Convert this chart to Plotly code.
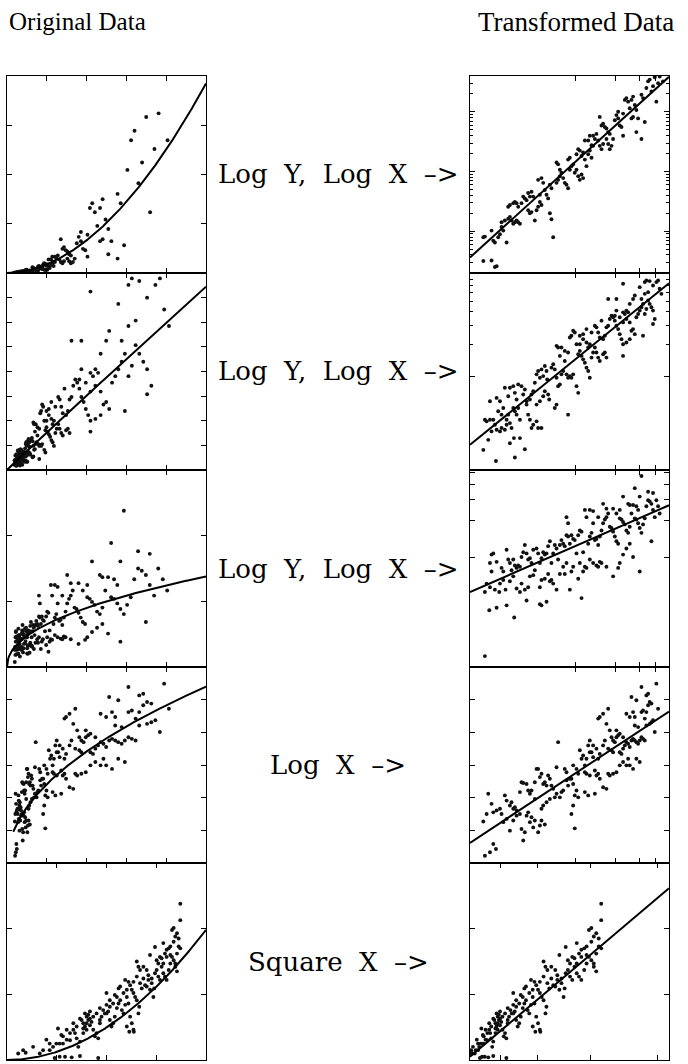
import numpy as np
import plotly.graph_objects as go

W, H = 688, 1064

# ---------------------------------------------------------------------------
# Row 1: power relation, analysed as log10(y) against log10(x)
r1_lx = [-0.695,-0.633,-0.608,-0.595,-0.695,-0.683,-0.633,-0.62,-0.608,-0.583,
         -0.57,-0.558,-0.545,-0.52,-0.558,-0.533,-0.508,-0.495,-0.483,-0.47,
         -0.458,-0.445,-0.433,-0.42,-0.508,-0.495,-0.47,-0.458,-0.445,-0.433,
         -0.408,-0.395,-0.383,-0.37,-0.358,-0.345,-0.333,-0.32,-0.358,-0.345,
         -0.333,-0.308,-0.295,-0.283,-0.27,-0.258,-0.27,-0.283,-0.258,-0.245,
         -0.233,-0.22,-0.208,-0.195,-0.183,-0.17,-0.195,-0.183,-0.145,-0.133,
         -0.12,-0.108,-0.145,-0.133,-0.12,-0.095,-0.083,-0.07,-0.058,-0.045,
         -0.033,-0.02,-0.058,-0.045,-0.008,0.005,0.018,0.03,0.043,0.055,
         0.005,0.018,0.03,0.043,0.055,0.068,0.08,0.093,0.105,0.118,
         0.118,0.13,0.068,0.093,0.105,0.13,0.143,0.155,0.168,0.18,
         0.193,0.205,0.18,0.193,0.205,0.218,0.23,0.243,0.255,0.23,
         0.243,0.255,0.268,0.28,0.293,0.305,0.318,0.33,0.343,0.355,
         0.318,0.355,0.368,0.38,0.393,0.405,0.418,0.43,0.443,0.455,
         0.418,0.43,0.455,0.468,0.493,0.518,0.493,0.505,0.53,0.543,
         0.555,0.568,0.58,0.593,0.605,0.618,0.63,0.655]
r1_ly = [-2.50,-2.49,-2.60,-2.585,-2.10,-2.09,-1.99,-2.16,-2.19,-2.10,
         -2.05,-1.93,-1.99,-2.19,-1.85,-1.82,-1.79,-1.76,-1.82,-1.875,
         -1.85,-1.82,-1.85,-1.875,-1.59,-1.56,-1.53,-1.51,-1.53,-1.59,
         -1.53,-1.42,-1.45,-1.48,-1.36,-1.42,-1.34,-1.42,-1.65,-1.70,
         -1.68,-1.82,-1.65,-1.59,-1.51,-1.56,-1.39,-1.14,-1.11,-1.19,
         -1.31,-1.39,-1.45,-1.70,-1.80,-2.10,-1.22,-1.28,-1.19,-1.14,
         -1.08,-1.02,-0.85,-0.88,-0.97,-1.11,-1.19,-1.22,-1.28,-0.97,
         -0.91,-0.88,-0.80,-0.77,-1.02,-0.97,-1.08,-1.14,-1.05,-1.11,
         -0.71,-0.625,-0.65,-0.74,-0.68,-0.80,-0.91,-0.71,-0.65,-0.77,
         -0.56,-0.57,-0.48,-0.48,-0.40,-0.40,-0.455,-0.37,-0.48,-0.57,
         -0.625,-0.54,-0.085,-0.23,-0.20,-0.255,-0.28,-0.34,-0.37,-0.455,
         -0.54,-0.625,-0.57,-0.455,-0.14,-0.055,-0.11,-0.23,-0.255,-0.40,
         0.0,-0.03,0.20,0.23,0.17,0.06,0.20,0.255,0.115,0.03,
         -0.11,-0.085,-0.34,-0.11,-0.455,-0.17,0.285,0.23,0.40,0.51,
         0.54,0.34,0.43,0.58,0.17,0.48,0.59,0.51]

# Row 2: near-proportional relation with spread growing with x (log10 values)
r2_lx = [-0.695,-0.658,-0.60,-0.458,-0.383,-0.495,-0.465,-0.42,-0.57,-0.558,
         -0.533,-0.52,-0.608,-0.62,-0.67,-0.683,-0.645,-0.633,-0.595,-0.583,
         -0.558,-0.545,-0.52,-0.508,-0.495,-0.483,-0.47,-0.458,-0.445,-0.433,
         -0.42,-0.645,-0.595,-0.57,-0.533,-0.508,-0.495,-0.47,-0.458,-0.445,
         -0.433,-0.408,-0.395,-0.383,-0.37,-0.358,-0.345,-0.333,-0.32,-0.295,
         -0.283,-0.258,-0.37,-0.345,-0.333,-0.32,-0.308,-0.295,-0.283,-0.27,
         -0.258,-0.245,-0.233,-0.22,-0.215,-0.208,-0.20,-0.233,-0.245,-0.27,
         -0.295,-0.183,-0.17,-0.158,-0.145,-0.133,-0.145,-0.158,-0.12,-0.108,
         -0.095,-0.083,-0.12,-0.133,-0.145,-0.108,-0.083,-0.07,-0.058,-0.045,
         -0.033,-0.02,0.005,0.018,-0.058,-0.058,-0.045,-0.033,-0.008,0.005,
         0.018,0.03,0.043,0.055,0.068,0.08,0.093,0.105,0.118,0.13,
         0.143,0.155,0.168,0.18,0.205,0.218,0.23,-0.02,0.03,0.055,
         0.08,0.093,0.105,0.118,0.143,0.155,0.168,0.18,0.205,0.218,
         0.23,0.243,0.255,0.268,0.28,0.293,0.305,0.318,0.33,0.343,
         0.355,0.355,0.38,0.405,0.418,0.43,0.443,0.455,0.468,0.48,
         0.493,0.505,0.518,0.53,0.543,0.555,0.568,0.58,0.593,0.58,
         0.505,0.243,0.305,0.355,0.38,0.393,0.405,0.43,0.443,0.48,
         0.518,0.53,0.555,0.58,0.605,0.618,0.63,0.643,0.543,0.518,
         0.493,0.355,0.368,0.38,0.08,0.055,0.03,0.193,0.293,0.305,
         0.33,0.355,0.405]
r2_ly = [-0.677,-0.584,-0.78,-0.748,-0.671,-0.615,-0.568,-0.568,-0.506,-0.475,
         -0.491,-0.444,-0.444,-0.398,-0.413,-0.398,-0.398,-0.506,-0.491,-0.32,
         -0.351,-0.289,-0.398,-0.351,-0.429,-0.475,-0.289,-0.32,-0.351,-0.289,
         -0.398,-0.227,-0.196,-0.227,-0.102,-0.18,-0.102,-0.087,-0.149,-0.211,
         -0.071,-0.087,-0.165,-0.118,-0.227,-0.351,-0.398,-0.475,-0.444,-0.413,
         -0.475,-0.475,-0.258,-0.211,-0.165,-0.134,-0.056,0.022,0.053,-0.009,
         0.068,0.006,0.099,0.053,-0.025,-0.165,-0.211,-0.134,-0.18,-0.227,
         -0.258,0.084,0.115,0.068,-0.009,-0.087,-0.258,-0.289,-0.071,0.022,
         0.053,0.146,0.193,0.27,0.286,0.27,0.239,0.022,-0.009,0.006,
         -0.009,0.022,-0.087,-0.149,-0.351,0.224,0.363,0.379,0.41,0.301,
         0.208,0.239,0.193,0.161,0.13,0.084,0.053,-0.009,0.177,0.224,
         0.27,0.224,0.177,0.146,0.208,0.224,0.177,0.425,0.379,0.348,
         0.317,0.27,0.301,0.41,0.472,0.457,0.41,0.363,0.348,0.379,
         0.457,0.472,0.534,0.565,0.55,0.519,0.472,0.441,0.394,0.348,
         0.301,0.193,0.317,0.348,0.425,0.441,0.394,0.55,0.581,0.612,
         0.643,0.674,0.581,0.627,0.705,0.674,0.643,0.612,0.534,0.488,
         0.379,0.72,0.72,0.86,0.612,0.596,0.674,0.72,0.752,0.829,
         0.876,0.891,0.885,0.845,0.876,0.891,0.814,0.767,0.783,0.767,
         0.72,0.503,0.581,0.534,0.441,0.394,0.301,0.519,0.565,0.612,
         0.55,0.596,0.503]

# Row 3: saturating relation (log10 values)
r3_lx = [-0.683,-0.65,-0.595,-0.52,-0.463,-0.37,-0.27,-0.258,-0.22,0.043,
         -0.683,-0.645,-0.67,-0.608,-0.575,-0.57,-0.545,-0.528,-0.495,-0.47,
         -0.445,-0.42,-0.408,-0.383,-0.358,-0.345,-0.32,-0.308,-0.27,-0.258,
         -0.233,-0.208,-0.195,-0.183,-0.17,-0.145,-0.12,-0.095,-0.083,-0.07,
         -0.045,-0.033,-0.02,0.018,0.03,0.055,0.068,0.08,0.105,0.13,
         0.155,0.168,0.18,0.193,0.23,0.28,0.318,0.33,0.355,0.38,
         0.405,0.43,0.48,-0.633,-0.645,-0.633,-0.62,-0.595,-0.558,-0.545,
         -0.52,-0.508,-0.495,-0.483,-0.47,-0.458,-0.445,-0.433,-0.42,-0.408,
         -0.395,-0.383,-0.37,-0.358,-0.345,-0.333,-0.32,-0.295,-0.283,-0.27,
         -0.258,-0.245,-0.233,-0.22,-0.208,-0.195,-0.183,-0.17,-0.158,-0.145,
         -0.133,-0.12,-0.108,-0.095,-0.083,-0.07,-0.058,-0.045,-0.033,-0.02,
         -0.008,0.005,0.018,0.03,0.043,0.055,0.068,0.08,0.093,0.105,
         0.118,0.13,0.143,0.155,0.168,0.18,0.193,0.205,0.218,0.23,
         0.243,0.255,0.268,0.28,0.293,0.305,0.318,0.33,0.343,0.355,
         0.368,0.38,0.393,0.405,0.418,0.43,0.443,0.455,0.468,0.48,
         0.493,0.505,0.518,0.53,0.543,0.555,0.568,0.58,0.593,0.568,
         0.543,0.58,0.605,0.618,0.63,0.48,0.355,0.443,0.493,0.205,
         0.23,0.28,0.305,0.33,-0.07,-0.058,0.105,0.13,0.168,0.393,
         0.405,0.455,0.468]
r3_ly = [-0.82,-0.44,-0.42,-0.40,-0.50,-0.36,-0.39,-0.40,-0.37,-0.34,
         -0.29,-0.25,-0.22,-0.27,-0.29,-0.22,-0.19,-0.27,-0.20,-0.16,
         -0.26,-0.29,-0.22,-0.27,-0.25,-0.16,-0.15,-0.11,-0.25,-0.19,
         -0.18,-0.14,-0.20,-0.19,-0.22,-0.27,-0.14,-0.08,-0.14,-0.05,
         -0.27,-0.12,-0.08,-0.18,-0.05,-0.12,-0.08,-0.09,-0.02,-0.05,
         -0.07,-0.08,-0.04,-0.05,-0.08,-0.16,-0.09,-0.05,0.02,0.07,
         0.11,0.0,-0.12,-0.12,-0.05,0.02,0.03,-0.04,-0.09,-0.12,
         0.06,-0.02,-0.05,-0.11,-0.02,-0.07,-0.09,-0.07,-0.08,0.0,
         0.04,0.10,0.03,-0.02,-0.01,-0.05,0.06,0.07,0.03,-0.05,
         -0.01,0.04,0.02,0.03,0.09,0.13,-0.05,0.03,0.10,0.07,
         -0.02,0.10,0.14,0.11,0.09,0.18,0.17,0.11,0.18,0.15,
         0.14,0.03,0.18,0.22,0.21,0.04,0.39,0.33,0.11,0.17,
         0.20,0.28,0.14,0.15,0.10,0.17,0.22,0.28,0.31,0.33,
         0.36,0.25,0.24,0.21,0.17,0.13,0.11,0.32,0.31,0.29,
         0.27,0.22,0.20,0.25,0.36,0.43,0.32,0.31,0.28,0.24,
         0.20,0.27,0.32,0.42,0.47,0.46,0.44,0.39,0.33,0.13,
         0.54,0.53,0.47,0.42,0.36,0.50,0.50,0.57,0.67,0.44,
         0.40,0.40,0.36,0.39,0.33,0.28,0.39,0.38,0.33,0.44,
         0.43,0.42,0.39]

# Row 4: logarithmic relation; x stored as log10, y as measured
r4_lx = [-0.683,-0.645,-0.62,-0.60,-0.695,-0.67,-0.658,-0.633,-0.62,-0.595,
         -0.57,-0.558,-0.533,-0.52,-0.495,-0.483,-0.47,-0.458,-0.445,-0.545,
         -0.52,-0.495,-0.47,-0.445,-0.42,-0.408,-0.395,-0.383,-0.37,-0.358,
         -0.345,-0.333,-0.32,-0.308,-0.283,-0.27,-0.258,-0.233,-0.42,-0.408,
         -0.395,-0.37,-0.358,-0.345,-0.333,-0.308,-0.295,-0.283,-0.27,-0.258,
         -0.245,-0.233,-0.22,-0.208,-0.195,-0.183,-0.17,-0.145,-0.12,-0.108,
         -0.095,-0.07,-0.058,-0.045,-0.033,-0.02,-0.008,0.005,0.018,-0.02,
         -0.033,-0.008,-0.133,-0.083,-0.07,-0.02,0.005,0.018,0.03,0.043,
         0.055,0.068,0.08,0.093,0.105,0.118,0.13,0.143,0.155,0.168,
         0.18,0.205,0.23,0.243,0.255,0.28,0.305,0.33,0.355,0.38,
         0.393,0.405,0.43,0.455,0.48,0.068,0.093,0.143,0.155,0.168,
         0.18,0.205,0.23,0.243,0.255,0.268,0.28,0.293,0.305,0.318,
         0.33,0.343,0.355,0.368,0.38,0.393,0.405,0.418,0.43,0.443,
         0.455,0.468,0.48,0.493,0.505,0.518,0.218,0.205,0.18,0.168,
         0.13,0.105,0.305,0.33,0.355,0.38,0.405,0.43,0.443,0.418,
         0.455,0.493,0.505,0.53,0.543,0.555,0.568,0.53,0.543,0.493,
         0.518,0.53,0.555,0.568,0.58,0.593,0.605,0.618,0.443,0.468,
         0.243,0.268,0.28,0.068,0.08,0.105,-0.158,-0.145,-0.195,-0.22,
         -0.245,-0.258,-0.308]
r4_y = [0.22,0.33,0.58,0.43,1.27,1.50,2.12,1.81,1.55,1.61,
        1.66,1.50,2.07,1.91,1.76,1.86,1.66,1.71,1.61,1.25,
        1.35,0.99,1.30,1.45,1.50,1.04,0.69,0.94,1.45,1.55,
        1.25,1.40,1.09,1.30,0.94,1.15,1.30,1.18,2.17,2.47,
        2.45,2.42,2.22,2.12,2.22,2.47,2.88,2.88,2.63,2.73,
        2.42,2.47,2.37,2.68,2.58,2.37,2.27,2.93,2.01,2.17,
        2.22,2.53,2.37,2.58,2.58,2.42,2.07,2.22,2.01,1.76,
        1.50,1.06,3.70,2.88,2.78,2.99,2.88,2.73,3.45,3.19,
        3.29,2.99,3.19,3.60,3.75,3.39,3.24,2.83,2.68,2.73,
        2.58,2.32,2.27,2.73,2.68,2.73,2.78,2.99,3.09,2.99,
        3.19,2.99,2.88,3.19,3.09,2.17,2.07,2.12,3.50,4.42,
        4.47,4.57,4.26,4.72,4.06,3.85,3.75,3.70,3.85,3.91,
        3.39,3.34,3.50,3.60,3.70,3.65,3.55,3.75,3.80,3.75,
        3.70,3.65,3.75,3.85,3.80,3.75,3.75,3.60,3.34,3.19,
        3.60,3.39,4.06,3.96,3.85,4.57,4.47,4.62,4.47,5.08,
        4.98,4.62,4.67,4.62,4.83,4.93,4.88,5.13,5.18,5.39,
        4.42,4.21,4.26,4.31,4.37,4.01,5.49,4.72,4.21,4.16,
        3.50,3.45,3.39,2.78,2.73,2.68,2.01,2.12,1.96,1.86,
        1.76,1.66,1.96]

# Row 5: quadratic relation, raw values
r5_x = [0.27,0.39,0.45,0.63,0.95,1.03,1.15,1.27,1.40,1.56,
        1.76,2.20,1.23,1.31,1.35,1.44,1.52,1.60,1.64,1.68,
        1.72,1.76,1.80,1.84,1.88,1.92,1.96,2.00,2.04,2.08,
        2.12,2.16,2.20,2.24,2.28,2.32,2.36,2.40,2.44,2.48,
        2.52,2.56,2.60,2.65,2.69,2.73,2.77,2.81,2.85,2.89,
        2.93,2.97,3.01,3.05,3.06,2.89,2.95,3.01,3.05,3.09,
        3.13,3.17,3.19,3.21,3.25,3.29,3.33,3.37,3.41,3.45,
        3.49,3.53,3.55,3.57,3.61,3.65,3.69,3.73,3.77,3.81,
        3.85,3.90,3.94,3.98,4.02,4.06,4.10,4.14,4.18,4.02,
        3.94,3.85,3.81,3.77,3.90,3.98,4.02,4.06,4.10,4.14,
        4.18,4.18,3.57,3.45,3.29,3.21,3.13,3.05,2.97,2.89,
        2.81,2.73,2.65,2.56,2.48,2.40,2.24,2.16,2.08,2.00,
        1.92,1.84,1.76,1.68,1.60,1.52,1.44,1.35,1.27,1.19,
        1.11,1.03,0.87,0.79,3.13,3.17,3.37,3.41,3.49,3.61,
        3.65,3.69,3.73,3.77,3.85,3.94,4.06,4.10,2.85,2.93,
        2.69,2.60,2.40,2.48,2.24,2.00,1.92,1.84,1.96,1.88]
r5_y = [0.10,0.15,0.11,0.20,0.31,0.15,0.03,0.05,0.05,0.04,
        0.06,0.03,0.48,0.38,0.36,0.31,0.30,0.56,0.41,0.33,
        0.20,0.28,0.61,0.56,0.51,0.66,0.61,0.63,0.58,0.46,
        0.36,0.41,0.33,0.56,0.66,0.76,0.71,0.84,0.74,0.61,
        0.51,0.56,0.66,0.79,0.86,0.91,0.76,0.71,0.84,0.96,
        0.86,0.66,0.56,0.46,0.43,0.51,0.43,1.07,1.02,0.96,
        0.91,0.71,0.81,1.17,1.09,1.24,1.14,1.12,1.22,1.07,
        1.17,0.96,1.09,1.32,1.37,1.27,1.22,1.42,1.32,1.27,
        1.22,1.37,1.47,1.57,1.52,1.42,1.62,1.73,1.70,1.80,
        1.73,1.68,1.62,1.78,1.70,1.98,2.01,1.88,1.93,1.85,
        2.13,2.38,1.72,1.60,1.42,1.37,1.27,1.19,1.14,1.07,
        1.02,1.12,0.96,0.86,0.91,0.71,0.79,0.71,0.66,0.74,
        0.56,0.48,0.63,0.51,0.46,0.41,0.46,0.25,0.25,0.25,
        0.20,0.25,0.15,0.10,1.50,1.42,1.37,1.29,1.24,1.52,
        1.47,1.57,1.55,1.47,1.57,1.60,1.47,1.35,1.22,1.19,
        1.09,0.99,1.02,0.81,0.61,0.53,0.46,0.41,0.69,0.71]

# Straight-line fits in the transformed space: (intercept, slope)
line_fits = [(-0.831, 2.024), (0.165, 1.0), (0.092, 0.48), (2.754, 2.69), (0.05, 0.0968)]
# Curves drawn over the original data: y = coef * x ** power, from x_start
curve_fits = [(0.169, 1.92), (1.414, 0.985), (1.25, 0.464), (2.39, 0.5), (0.086, 2.0)]
curve_start = [0.0, 0.0, 0.0, 0.16, 0.0]

row_labels = ["Log  Y,  Log  X  \u2013>", "Log  Y,  Log  X  \u2013>", "Log  Y,  Log  X  \u2013>",
              "Log  X  \u2013>", "Square  X  \u2013>"]

# Axis extents and tick values
left_x_max = [5.6, 5.4, 5.3, 5.1, 4.8]
left_y_max = [4.8, 8.0, 5.9, 6.0, 3.0]
left_x_ticks = [[1.12, 2.24, 3.36, 4.48], [1.08, 2.16, 3.24, 4.32], [1.06, 2.12, 3.18, 4.24],
                [1.02, 2.04, 3.06, 4.08], [1.2, 2.4, 3.6]]
left_y_ticks = [[1.2, 2.4, 3.6], [1, 2, 3, 4, 5, 6, 7], [1.97, 3.93], [1, 2, 3, 4, 5], [1, 2]]

right_x_range = [[-0.795, 0.70]] * 4 + [[0, 26.5]]
right_y_range = [[-2.7, 0.6], [-0.863, 0.96], [-0.91, 0.72], [0, 6], [0, 3]]
log_x_tick_values = [1, 2, 3, 4]
square_x_tick_values = [4, 9, 16, 25]

# ---------------------------------------------------------------------------
# Build original / transformed coordinates
orig = []
trans = []
for lx, ly in [(r1_lx, r1_ly), (r2_lx, r2_ly), (r3_lx, r3_ly)]:
    lx = np.array(lx); ly = np.array(ly)
    orig.append((10 ** lx, 10 ** ly))
    trans.append((lx, ly))
lx4 = np.array(r4_lx); y4 = np.array(r4_y)
orig.append((10 ** lx4, y4)); trans.append((lx4, y4))
x5 = np.array(r5_x); y5 = np.array(r5_y)
orig.append((x5, y5)); trans.append((x5 ** 2, y5))


def log_ticks(lo, hi, mults):
    vals = []
    for d in range(-4, 3):
        for m in mults:
            v = np.log10(m * 10.0 ** d)
            if lo < v < hi:
                vals.append(float(v))
    return vals


right_y_major = [log_ticks(-2.7, 0.6, [1]), [0.0],
                 [float(np.log10(k)) for k in [1, 2, 3, 4, 5]], [1, 2, 3, 4, 5], [1, 2]]
right_y_minor = [log_ticks(-2.7, 0.6, range(2, 10)),
                 [float(np.log10(k)) for k in range(2, 10)], None, None, None]
right_x_ticks = [[float(np.log10(v)) for v in log_x_tick_values]] * 4 + [square_x_tick_values]

# ---------------------------------------------------------------------------
# Layout geometry (pixels)
left_col = (7, 206)
right_col = (470, 669)
row_edges = [(76, 273), (273, 470), (470, 667), (667, 863), (863, 1060)]


def axis(rng, tickvals, domain, anchor, minor=None):
    a = dict(range=rng, domain=domain, anchor=anchor,
             showline=True, linecolor="black", linewidth=1.4, mirror="ticks",
             ticks="inside", ticklen=5, tickwidth=1.3, tickcolor="black",
             tickmode="array", tickvals=tickvals, showticklabels=False,
             showgrid=False, zeroline=False, fixedrange=True)
    if minor:
        a["minor"] = dict(tickmode="array", tickvals=minor, ticks="inside",
                          ticklen=3, tickwidth=1, tickcolor="black", showgrid=False)
    return a


fig = go.Figure()
layout = {}
dot = dict(size=3.9, color="#111111", line=dict(width=0))
curve = dict(color="black", width=2)

for r in range(5):
    top, bot = row_edges[r]
    ydom = [1 - bot / H, 1 - top / H]
    # left panel: original data
    n = r + 1
    xs, ys = orig[r]
    xname = "x" if n == 1 else f"x{n}"
    yname = "y" if n == 1 else f"y{n}"
    layout["xaxis" if n == 1 else f"xaxis{n}"] = axis(
        [0, left_x_max[r]], left_x_ticks[r], [left_col[0] / W, left_col[1] / W], yname)
    layout["yaxis" if n == 1 else f"yaxis{n}"] = axis(
        [0, left_y_max[r]], left_y_ticks[r], ydom, xname)
    fig.add_trace(go.Scatter(x=xs, y=ys, mode="markers", marker=dot,
                             xaxis=xname, yaxis=yname, hoverinfo="skip"))
    c, p = curve_fits[r]
    cx = np.linspace(curve_start[r], left_x_max[r], 300)
    fig.add_trace(go.Scatter(x=cx, y=c * cx ** p, mode="lines", line=curve,
                             xaxis=xname, yaxis=yname, hoverinfo="skip"))

    # right panel: transformed data
    m = r + 6
    xname = f"x{m}"
    yname = f"y{m}"
    layout[f"xaxis{m}"] = axis(right_x_range[r], right_x_ticks[r],
                               [right_col[0] / W, right_col[1] / W], yname)
    layout[f"yaxis{m}"] = axis(right_y_range[r], right_y_major[r], ydom, xname,
                               minor=right_y_minor[r])
    tx, ty = trans[r]
    fig.add_trace(go.Scatter(x=tx, y=ty, mode="markers", marker=dot,
                             xaxis=xname, yaxis=yname, hoverinfo="skip"))
    a, b = line_fits[r]
    lx = np.linspace(right_x_range[r][0], right_x_range[r][1], 50)
    fig.add_trace(go.Scatter(x=lx, y=a + b * lx, mode="lines", line=curve,
                             xaxis=xname, yaxis=yname, hoverinfo="skip"))

annotations = [
    dict(text="Original Data", x=7 / W, y=1 - 22 / H, xanchor="left", yanchor="middle",
         font=dict(family="Liberation Serif", size=25, color="black")),
    dict(text="Transformed Data", x=476 / W, y=1 - 22 / H, xanchor="left", yanchor="middle",
         font=dict(family="Liberation Serif", size=27, color="black")),
]
for r, lab in enumerate(row_labels):
    top, bot = row_edges[r]
    annotations.append(dict(text=lab.replace(" ", "\u00a0"), x=338 / W,
                            y=1 - (top + bot) / 2 / H, xanchor="center", yanchor="middle",
                            font=dict(family="DejaVu Serif", size=26, color="black")))
for a in annotations:
    a.update(xref="paper", yref="paper", showarrow=False)

fig.update_layout(width=W, height=H, margin=dict(l=0, r=0, t=0, b=0),
                  paper_bgcolor="white", plot_bgcolor="white", showlegend=False,
                  annotations=annotations, **layout)

fig.write_html("out.html")
